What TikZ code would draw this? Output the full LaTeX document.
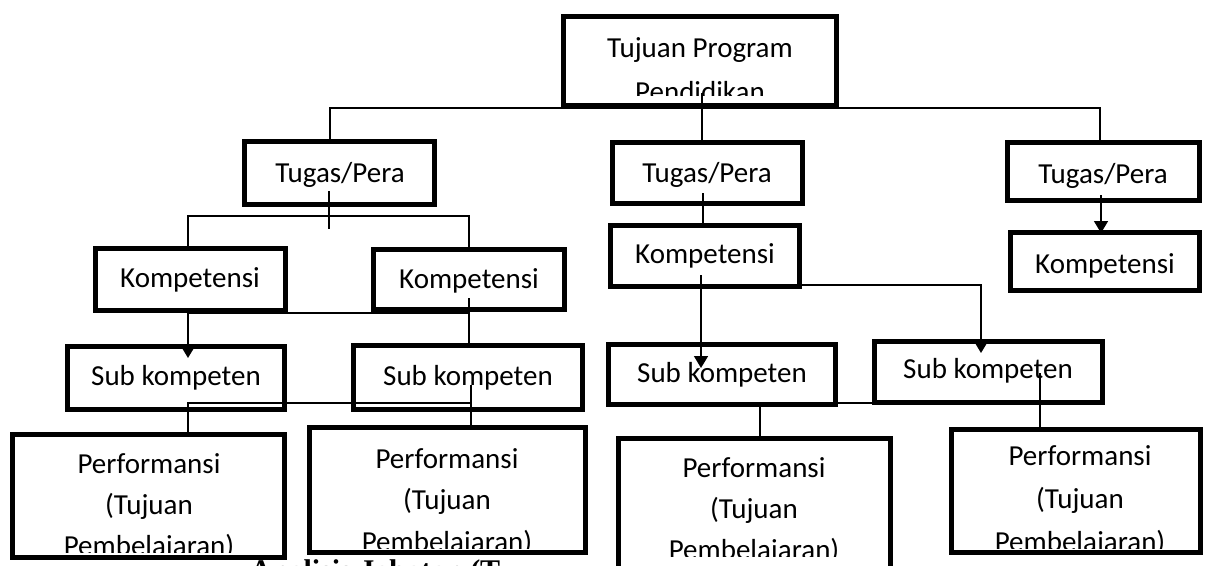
\documentclass[tikz,border=0pt]{standalone}
\usepackage{fontspec}
\setmainfont{Carlito}
\newfontfamily\capfont{Liberation Serif}
\usetikzlibrary{arrows.meta}
\newcommand{\mkbox}[5]{%
  \pgfmathsetmacro\mkbw{#4-#2-5}\pgfmathsetmacro\mkbh{#5-#3-5}%
  \node[box, minimum width=\mkbw pt, minimum height=\mkbh pt] (#1) at ({(#2+#4)/2},{(#3+#5)/2}) {};}
\begin{document}
\begin{tikzpicture}[x=1pt,y=-1pt,
  box/.style={draw=black, line width=5pt, fill=white, inner sep=0pt},
  conn/.style={draw=black, line width=1.6pt},
  arr/.style={conn, -{Triangle[length=12pt,width=14pt]}},
  lbl/.style={anchor=base, inner sep=0pt, font=\fontsize{29}{35}\selectfont},
  caplbl/.style={anchor=base west, inner sep=0pt, font=\capfont\bfseries\fontsize{30}{36}\selectfont}]
\useasboundingbox (0,0) rectangle (1212,565);
\fill[white] (0,0) rectangle (1212,565);

% caption (cut off at the bottom)
\node[caplbl] (cap) at (250,580) {Analisis Jabatan (T};

% boxes
\mkbox{top}{561}{14}{839}{108}
\mkbox{tl}{242}{139}{437}{207}
\mkbox{tm}{610}{140}{805}{206}
\mkbox{tr}{1005}{140}{1202}{203}
\mkbox{kl}{93}{246}{288}{313}
\mkbox{kr}{371}{247}{567}{312}
\mkbox{km}{608}{223}{802}{289}
\mkbox{krr}{1008}{230}{1202}{293}
\mkbox{s1}{65}{344}{287}{412}
\mkbox{s2}{351}{343}{585}{412}
\mkbox{s3}{606}{342}{838}{407}
\mkbox{s4}{872}{339}{1105}{405}
\mkbox{p1}{10}{432}{287}{560}
\mkbox{p2}{307}{425}{588}{555}
\mkbox{p3}{616}{436}{893}{575}
\mkbox{p4}{949}{427}{1203}{555}

% texts
\begin{scope}
  \clip (566,19) rectangle (834,95);
  \node[lbl] (topa) at (700,57) {Tujuan Program};
  \node[lbl] (topb) at (700,101) {Pendidikan};
\end{scope}
\node[lbl] (tlt) at (340,182) {Tugas/Pera};
\node[lbl] (tmt) at (707,182) {Tugas/Pera};
\node[lbl] (trt) at (1103,183) {Tugas/Pera};
\node[lbl] (klt) at (190,287) {Kompetensi};
\node[lbl] (krt) at (469,288) {Kompetensi};
\node[lbl] (kmt) at (705,263) {Kompetensi};
\node[lbl] (krrt) at (1105,273) {Kompetensi};
\node[lbl] (s1t) at (176,385) {Sub kompeten};
\node[lbl] (s2t) at (468,385) {Sub kompeten};
\node[lbl] (s3t) at (722,382) {Sub kompeten};
\node[lbl] (s4t) at (988,378) {Sub kompeten};
\begin{scope}
  \clip (15,437) rectangle (282,552);
  \node[lbl] (p1a) at (149,473) {Performansi};
  \node[lbl] (p1b) at (149,514) {(Tujuan};
  \node[lbl] (p1c) at (149,555) {Pembelajaran)};
\end{scope}
\begin{scope}
  \clip (312,430) rectangle (583,548);
  \node[lbl] (p2a) at (447,468) {Performansi};
  \node[lbl] (p2b) at (447,509) {(Tujuan};
  \node[lbl] (p2c) at (447,551) {Pembelajaran)};
\end{scope}
\begin{scope}
  \clip (621,441) rectangle (888,556);
  \node[lbl] (p3a) at (754,477) {Performansi};
  \node[lbl] (p3b) at (754,518) {(Tujuan};
  \node[lbl] (p3c) at (754,559) {Pembelajaran)};
\end{scope}
\begin{scope}
  \clip (954,432) rectangle (1198,548);
  \node[lbl] (p4a) at (1080,465) {Performansi};
  \node[lbl] (p4b) at (1080,508) {(Tujuan};
  \node[lbl] (p4c) at (1080,551) {Pembelajaran)};
\end{scope}

% connectors
\coordinate (c1) at (702,93);
\draw[conn] (c1) -- (c1 |- tm.north);
\coordinate (hL) at (330,108);
\coordinate (hR) at (1100,108);
\draw[conn] (hL |- tl.north) -- (hL) -- (hR) -- (hR |- tr.north);

\coordinate (a1) at (329,191);
\coordinate (a2) at (329,229);
\draw[conn] (a1) -- (a2);
\coordinate (a3) at (188,216);
\coordinate (a4) at (469,216);
\draw[conn] (a3 |- kl.north) -- (a3) -- (a4) -- (a4 |- kr.north);

\coordinate (b1) at (188,313);
\coordinate (b1t) at (188,358);
\draw[arr] (b1) -- (b1t);
\coordinate (b2) at (469,313);
\draw[conn] (b1) -- (b2);
\coordinate (b3) at (469,298);
\draw[conn] (b3) -- (b3 |- s2.north);

\coordinate (d1) at (188,403);
\coordinate (d2) at (471,403);
\coordinate (d3) at (471,385);
\draw[conn] (d1 |- p1.north) -- (d1) -- (d2);
\draw[conn] (d3) -- (d3 |- p2.north);

\coordinate (e1) at (703,193);
\draw[conn] (e1) -- (e1 |- km.north);
\coordinate (e2) at (701,275);
\coordinate (e2t) at (701,368);
\draw[arr] (e2) -- (e2t);
\coordinate (e3) at (701,285);
\coordinate (e4) at (981,285);
\coordinate (e4t) at (981,353);
\draw[arr] (e3) -- (e4) -- (e4t);

\coordinate (f1) at (760,403);
\coordinate (f2) at (872,403);
\draw[conn] (f1 |- p3.north) -- (f1) -- (f2);
\coordinate (f3) at (1040,373);
\draw[conn] (f3) -- (f3 |- p4.north);

\coordinate (g1) at (1101,195);
\coordinate (g1t) at (1101,233);
\draw[arr] (g1) -- (g1t);
\end{tikzpicture}
\end{document}
